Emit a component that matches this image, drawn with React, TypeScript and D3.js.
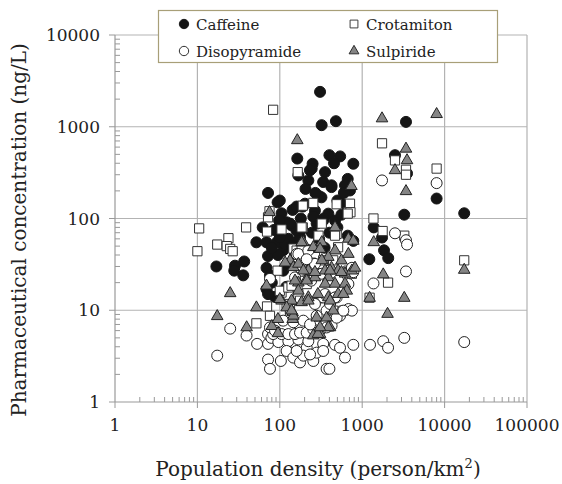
import React, { useEffect, useRef } from "react";
import * as d3 from "d3";

// [population density (person/km2), concentration (ng/L)]
const caffeine: [number, number][] = [
  [308, 2400], [322, 1040], [480, 1150], [3400, 1130], [163, 450], [250, 395], [244, 350],
  [400, 490], [540, 475], [455, 400], [780, 395], [354, 320], [667, 270], [336, 250],
  [424, 220], [711, 202], [2500, 490], [3500, 310], [8000, 165], [17300, 114], [3240, 110],
  [300, 175], [72, 190], [94, 150], [105, 114], [143, 124], [190, 135], [168, 295], [232, 335],
  [17, 30], [28.6, 30.6], [28, 27], [37, 34], [36, 24], [52, 55], [69, 55], [92, 55], [72, 39],
  [69, 29], [76, 24], [69, 17], [87, 14], [110, 45], [139, 84], [127, 60], [176, 63], [121, 91],
  [159, 74], [100, 157], [280, 88], [538, 150], [667, 130], [222, 260], [424, 230], [618, 230],
  [320, 170], [500, 157], [202, 145], [267, 122], [388, 113], [290, 95], [468, 95], [500, 80],
  [667, 65], [187, 77], [245, 70], [168, 57], [153, 41], [780, 57], [1380, 80], [1740, 62],
  [1840, 45], [2070, 37], [1220, 36], [110, 27], [133, 88], [116, 53], [72, 15], [255, 105],
  [340, 100], [205, 210], [300, 60], [350, 48], [230, 45], [95, 40], [130, 32], [85, 75],
  [98, 95], [62, 80], [80, 20], [180, 100], [400, 70], [560, 110], [120, 18], [80, 48],
  [100, 62], [140, 50], [160, 135], [270, 190], [600, 190], [336, 95],
];

const crotamiton: [number, number][] = [
  [83, 1530], [165, 320], [75, 120], [72, 103], [10.5, 78], [39, 80], [70, 72], [105, 76],
  [190, 80], [10, 44], [17.4, 52], [23.8, 61], [22.7, 50], [25, 46.6], [26.8, 44], [146, 47],
  [94, 27], [105, 15.6], [70, 11], [76, 8.7], [52, 7.2], [176, 6.8], [133, 10.3], [168, 15],
  [212, 19.3], [190, 138], [100, 16.3], [127, 17.7], [139, 18.5], [160, 44.7], [255, 148],
  [490, 143], [711, 145], [680, 117], [720, 117], [667, 113], [184, 80], [323, 88], [490, 68],
  [295, 65], [468, 65], [510, 48.6], [184, 44.7], [267, 38], [680, 27], [750, 25], [445, 35],
  [323, 32], [1740, 660], [2500, 430], [3400, 340], [3400, 300], [8000, 350], [1370, 100],
  [1770, 73], [3240, 65], [17300, 35], [2060, 20], [1230, 13.7], [240, 33], [336, 35],
  [711, 26], [121, 11.7], [176, 12.7], [445, 9.9], [590, 9.9], [133, 9],
];

const disopyramide: [number, number][] = [
  [1740, 260], [8000, 243], [2500, 69], [3400, 58], [3500, 52], [3400, 26.5], [1370, 19.6],
  [3240, 5.0], [1800, 4.6], [1245, 4.2], [2060, 3.9], [17300, 4.5], [160, 41], [190, 27],
  [323, 25], [750, 29], [780, 26], [680, 10.3], [750, 9.9], [538, 8.7], [323, 13.8], [780, 4.2],
  [468, 4.2], [538, 3.9], [336, 4.3], [212, 3.9], [146, 4.5], [25, 6.3], [17.4, 3.2],
  [39.5, 5.3], [53, 4.3], [72, 4.3], [72, 5.5], [79, 5.0], [72, 2.9], [76, 2.3], [103, 2.8],
  [96, 4.5], [127, 4.6], [168, 4.8], [222, 4.6], [121, 3.6], [146, 3.05], [176, 2.7],
  [193, 3.2], [255, 2.8], [280, 3.45], [336, 3.6], [370, 2.3], [400, 2.3], [618, 3.05],
  [105, 5.5], [127, 5.5], [153, 5.5], [176, 5.7], [212, 5.7], [255, 6.2], [308, 6.0],
  [370, 6.5], [425, 6.8], [490, 8.3], [590, 9.9], [83, 5.5], [76, 6.5], [87.5, 6.0],
  [110, 7.7], [146, 7.4], [193, 7.7], [233, 7], [280, 8.7], [370, 9.9], [336, 13.8],
  [407, 11.7], [267, 11.7], [490, 13.8], [160, 3.6], [233, 3.3], [76, 22], [168, 41],
  [222, 44.7], [184, 27], [267, 32], [388, 27], [510, 21], [680, 19.3], [468, 13.8],
  [153, 22.8], [240, 21], [354, 15], [212, 36],
];

const sulpiride: [number, number][] = [
  [163, 711], [1740, 1230], [8000, 1370], [3400, 575], [3500, 430], [2500, 335], [3400, 198],
  [740, 225], [75, 117], [25, 15.3], [17.4, 8.6], [39.6, 6.5], [52, 10.7], [69, 18.5],
  [80, 6.7], [95, 5.6], [95, 8], [105, 12.7], [139, 12.7], [184, 12.2], [121, 10.7],
  [143, 9.5], [143, 8], [133, 34.8], [146, 29.4], [168, 20], [193, 55], [168, 16.3],
  [212, 22], [468, 80], [680, 60], [780, 57], [184, 55], [255, 48.6], [323, 55], [308, 46.5],
  [468, 44.7], [388, 38], [560, 34.8], [680, 41], [168, 32], [222, 27], [323, 35], [354, 27],
  [424, 29], [510, 27], [618, 25], [750, 27], [818, 29], [267, 22.8], [388, 22.8], [153, 21],
  [212, 21], [354, 19.4], [468, 19.4], [618, 19.4], [222, 13.8], [290, 15], [388, 13.8],
  [510, 15], [650, 16.3], [1380, 55], [1800, 24.5], [3240, 13.6], [1230, 13.6], [2030, 9.1],
  [17300, 27.5], [116, 33], [193, 27], [267, 26], [407, 27], [560, 26], [100, 13.2],
  [146, 8.7], [280, 8.3], [370, 8.3], [445, 9.9], [407, 6.5], [255, 5.3], [308, 5.5],
  [139, 9.9], [222, 12.7], [590, 15], [407, 12.7], [290, 5.5], [388, 6.5], [308, 6.5],
];

const xTicks = [1, 10, 100, 1000, 10000, 100000];
const yTicks = [1, 10, 100, 1000, 10000];

const FONT = "'DejaVu Serif', serif";

const App: React.FC = () => {
  const svgRef = useRef<SVGSVGElement>(null);
  const width = 562;
  const height = 484;

  useEffect(() => {
    if (!svgRef.current) return;
    const svg = d3.select(svgRef.current);
    svg.selectAll("*").remove();

    const x = d3.scaleLog().domain([1, 100000]).range([115, 527]);
    const y = d3.scaleLog().domain([1, 10000]).range([402, 35]);

    const gridColor = "#b3b3b3";

    // gridlines
    svg.append("g")
      .selectAll("line")
      .data(xTicks.slice(1))
      .join("line")
      .attr("x1", d => x(d)).attr("x2", d => x(d))
      .attr("y1", y(10000)).attr("y2", y(1))
      .attr("stroke", gridColor).attr("stroke-width", 1.2);
    svg.append("g")
      .selectAll("line")
      .data(yTicks.slice(1))
      .join("line")
      .attr("x1", x(1)).attr("x2", x(100000))
      .attr("y1", d => y(d)).attr("y2", d => y(d))
      .attr("stroke", gridColor).attr("stroke-width", 1.2);

    // minor ticks
    const minorX: number[] = [];
    for (let e = 0; e < 5; e++) for (let k = 2; k <= 9; k++) minorX.push(k * Math.pow(10, e));
    const minorY: number[] = [];
    for (let e = 0; e < 4; e++) for (let k = 2; k <= 9; k++) minorY.push(k * Math.pow(10, e));

    svg.append("g")
      .selectAll("line")
      .data(minorX)
      .join("line")
      .attr("x1", d => x(d)).attr("x2", d => x(d))
      .attr("y1", y(1)).attr("y2", y(1) - 5)
      .attr("stroke", "#999");
    svg.append("g")
      .selectAll("line")
      .data(minorY)
      .join("line")
      .attr("x1", x(1)).attr("x2", x(1) + 5)
      .attr("y1", d => y(d)).attr("y2", d => y(d))
      .attr("stroke", "#999");

    // axis lines + major ticks
    svg.append("line")
      .attr("x1", x(1)).attr("x2", x(100000))
      .attr("y1", y(1)).attr("y2", y(1))
      .attr("stroke", "#999").attr("stroke-width", 1.2);
    svg.append("line")
      .attr("x1", x(1)).attr("x2", x(1))
      .attr("y1", y(1)).attr("y2", y(10000))
      .attr("stroke", "#999").attr("stroke-width", 1.2);

    svg.append("g")
      .selectAll("line")
      .data(xTicks)
      .join("line")
      .attr("x1", d => x(d)).attr("x2", d => x(d))
      .attr("y1", y(1)).attr("y2", y(1) + 6)
      .attr("stroke", "#999");
    svg.append("g")
      .selectAll("line")
      .data(yTicks)
      .join("line")
      .attr("x1", x(1) - 6).attr("x2", x(1))
      .attr("y1", d => y(d)).attr("y2", d => y(d))
      .attr("stroke", "#999");

    // tick labels
    svg.append("g")
      .selectAll("text")
      .data(xTicks)
      .join("text")
      .attr("x", d => x(d))
      .attr("y", 431)
      .attr("text-anchor", "middle")
      .attr("font-family", FONT)
      .attr("font-size", 17)
      .attr("fill", "#222")
      .text(d => String(d));
    svg.append("g")
      .selectAll("text")
      .data(yTicks)
      .join("text")
      .attr("x", 100)
      .attr("y", d => y(d) + 6)
      .attr("text-anchor", "end")
      .attr("font-family", FONT)
      .attr("font-size", 17)
      .attr("fill", "#222")
      .text(d => String(d));

    // axis titles
    const xTitle = svg.append("text")
      .attr("x", 318)
      .attr("y", 476)
      .attr("text-anchor", "middle")
      .attr("font-family", FONT)
      .attr("font-size", 20)
      .attr("fill", "#222");
    xTitle.append("tspan").text("Population density (person/km");
    xTitle.append("tspan").attr("font-size", 13).attr("dy", -8).text("2");
    xTitle.append("tspan").attr("dy", 8).text(")");

    svg.append("text")
      .attr("transform", `translate(26,230) rotate(-90)`)
      .attr("text-anchor", "middle")
      .attr("font-family", FONT)
      .attr("font-size", 20)
      .attr("fill", "#222")
      .text("Pharmaceutical concentration (ng/L)");

    // markers
    const circle = d3.symbol().type(d3.symbolCircle).size(95)();
    const square = d3.symbol().type(d3.symbolSquare).size(85)();
    const triangle = d3.symbol().type(d3.symbolTriangle).size(58)();

    const series = [
      { name: "Caffeine", data: caffeine, path: circle, fill: "#151515", stroke: "#151515" },
      { name: "Crotamiton", data: crotamiton, path: square, fill: "#ffffff", stroke: "#333" },
      { name: "Disopyramide", data: disopyramide, path: circle, fill: "#ffffff", stroke: "#222" },
      { name: "Sulpiride", data: sulpiride, path: triangle, fill: "#858585", stroke: "#222" },
    ];

    series.forEach(s => {
      svg.append("g")
        .selectAll("path")
        .data(s.data)
        .join("path")
        .attr("d", s.path as string)
        .attr("transform", d => `translate(${x(d[0])},${y(d[1])})`)
        .attr("fill", s.fill)
        .attr("stroke", s.stroke)
        .attr("stroke-width", 1);
    });

    // legend
    const lg = svg.append("g");
    lg.append("rect")
      .attr("x", 158.5).attr("y", 10.5)
      .attr("width", 339).attr("height", 52)
      .attr("fill", "#fff")
      .attr("stroke", "#a89f78").attr("stroke-width", 1.2);

    const legendPos = [
      [184, 24], [354, 24], [184, 51], [354, 51],
    ];
    series.forEach((s, i) => {
      const [lx, ly] = legendPos[i];
      lg.append("path")
        .attr("d", s.path as string)
        .attr("transform", `translate(${lx},${ly}) scale(0.85)`)
        .attr("fill", s.fill)
        .attr("stroke", s.stroke)
        .attr("stroke-width", 1.1);
      lg.append("text")
        .attr("x", lx + 12)
        .attr("y", ly + 5.5)
        .attr("font-family", FONT)
        .attr("font-size", 15)
        .attr("fill", "#222")
        .text(s.name);
    });
  }, []);

  return (
    <svg
      ref={svgRef}
      width={width}
      height={height}
      style={{ position: "absolute", left: 0, top: 0, background: "#fff" }}
    ></svg>
  );
};

export default App;
